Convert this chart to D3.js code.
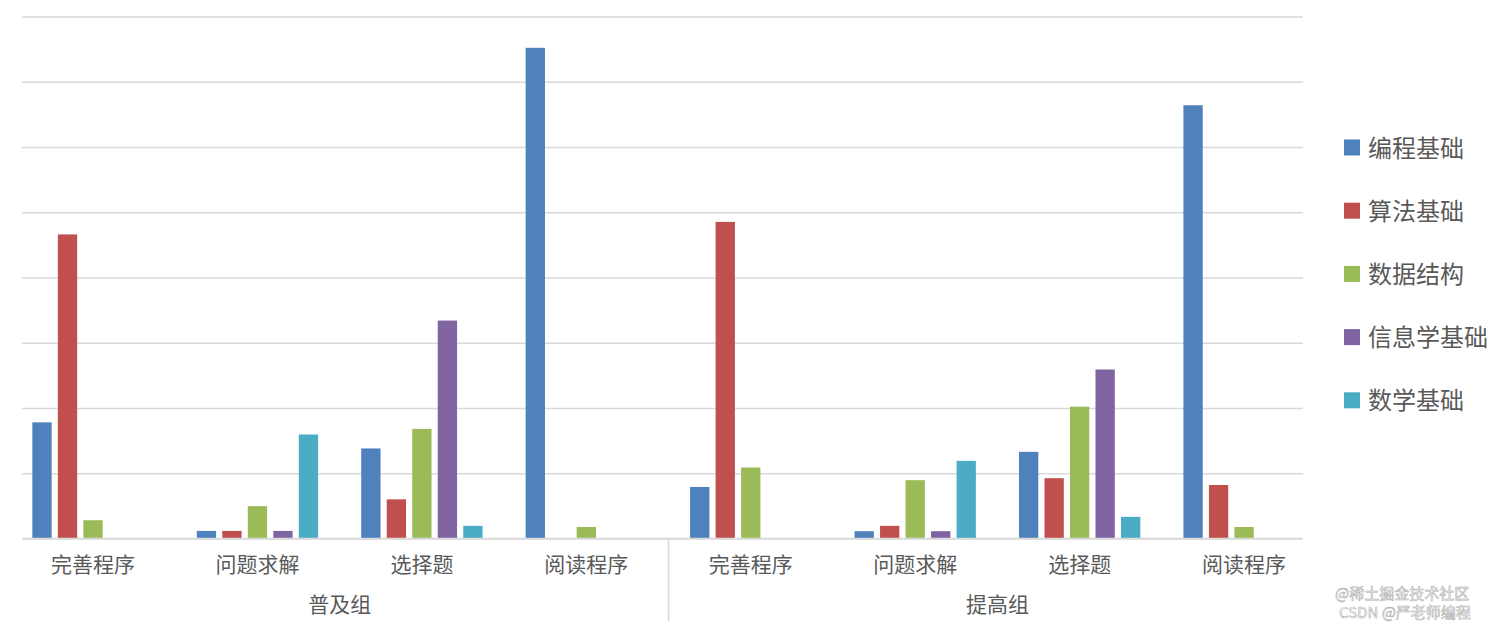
<!DOCTYPE html>
<html>
<head>
<meta charset="utf-8">
<script src="https://cdn.jsdelivr.net/npm/d3@7"></script>
<style>
  html, body { margin: 0; padding: 0; background: #fff; }
  svg { display: block; }
  text { font-family: "Noto Sans CJK SC", "Noto Sans", sans-serif; }
</style>
</head>
<body>
<svg id="chart" width="1512" height="627"></svg>
<script>
// ---- data ----
const groups = ["普及组", "提高组"];
const categories = ["完善程序", "问题求解", "选择题", "阅读程序", "完善程序", "问题求解", "选择题", "阅读程序"];
const categoryGroup = [0, 0, 0, 0, 1, 1, 1, 1];
const seriesNames = ["编程基础", "算法基础", "数据结构", "信息学基础", "数学基础"];
const seriesColors = ["#4F81BD", "#C0504D", "#9BBB59", "#8064A2", "#4BACC6"];
const s编程基础 = [8.9, 0.58, 6.9, 37.6, 3.95, 0.56, 6.64, 33.2];
const s算法基础 = [23.3, 0.58, 3.0, 0, 24.26, 0.97, 4.62, 4.1];
const s数据结构 = [1.4, 2.48, 8.4, 0.88, 5.44, 4.47, 10.1, 0.88];
const s信息学基础 = [0, 0.58, 16.7, 0, 0, 0.56, 12.95, 0];
const s数学基础 = [0, 7.97, 0.97, 0, 0, 5.95, 1.66, 0];
const seriesValues = [s编程基础, s算法基础, s数据结构, s信息学基础, s数学基础];
const yTicks = [0, 5, 10, 15, 20, 25, 30, 35, 40];

// ---- layout ----
const svg = d3.select("#chart");
const gridLeft = 22, gridRight = 1303;
const y = d3.scaleLinear().domain([0, 40]).range([538.5, 16.5]);
const x0 = d3.scaleBand().domain(d3.range(categories.length)).range([10.8, 1326.3]).paddingInner(0).paddingOuter(0);
const x1 = d3.scaleBand().domain(d3.range(seriesNames.length)).range([0, x0.bandwidth()]).paddingInner(0.243).paddingOuter(0.845);
const xg = d3.scaleBand().domain(d3.range(groups.length)).range([10.8, 1326.3]);

// gridlines
const yAxis = d3.axisLeft(y).tickValues(yTicks).tickSize(-(gridRight - gridLeft)).tickFormat("");
const ga = svg.append("g").attr("transform", `translate(${gridLeft},0)`).call(yAxis);
ga.select(".domain").remove();
ga.selectAll(".tick line").attr("stroke", "#d9d9d9").attr("stroke-width", 1.6);

// bars
seriesNames.forEach((name, si) => {
  svg.append("g").selectAll("rect")
    .data(seriesValues[si].map((v, ci) => ({ v, ci })).filter(d => d.v > 0))
    .join("rect")
    .attr("x", d => x0(d.ci) + x1(si))
    .attr("width", x1.bandwidth())
    .attr("y", d => y(d.v))
    .attr("height", d => y(0) - y(d.v))
    .attr("fill", seriesColors[si]);
});

// baseline
svg.append("line").attr("x1", gridLeft).attr("x2", gridRight)
  .attr("y1", y(0)).attr("y2", y(0)).attr("stroke", "#d9d9d9").attr("stroke-width", 1.6);

// category labels
svg.append("g").selectAll("text").data(categories).join("text")
  .attr("x", (d, i) => x0(i) + x0.bandwidth() / 2)
  .attr("y", 572)
  .attr("text-anchor", "middle")
  .attr("font-size", 21)
  .attr("fill", "#595959")
  .text(d => d);

// group labels
svg.append("g").selectAll("text").data(groups).join("text")
  .attr("x", (d, i) => xg(i) + xg.bandwidth() / 2)
  .attr("y", 612)
  .attr("text-anchor", "middle")
  .attr("font-size", 21)
  .attr("fill", "#595959")
  .text(d => d);

// group divider
svg.append("line").attr("x1", xg(1)).attr("x2", xg(1))
  .attr("y1", y(0)).attr("y2", 621).attr("stroke", "#d9d9d9").attr("stroke-width", 1.6);

// legend
const lg = svg.append("g").selectAll("g").data(seriesNames).join("g")
  .attr("transform", (d, i) => `translate(1344, ${147.5 + i * 63.2})`);
lg.append("rect").attr("x", 0).attr("y", -8).attr("width", 16).attr("height", 16)
  .attr("fill", (d, i) => seriesColors[i]);
lg.append("text").attr("x", 24).attr("y", 9).attr("font-size", 24)
  .attr("fill", "#595959").text(d => d);

// watermark
svg.append("text").attr("x", 1335).attr("y", 599).attr("font-size", 15)
  .attr("fill", "#ffffff").attr("stroke", "#b0b0b0").attr("stroke-width", 0.6)
  .text("@稀土掘金技术社区");
svg.append("text").attr("x", 1339).attr("y", 618).attr("font-size", 15)
  .attr("fill", "#ffffff").attr("stroke", "#b0b0b0").attr("stroke-width", 0.6)
  .text("CSDN @严老师编程");
</script>
</body>
</html>
